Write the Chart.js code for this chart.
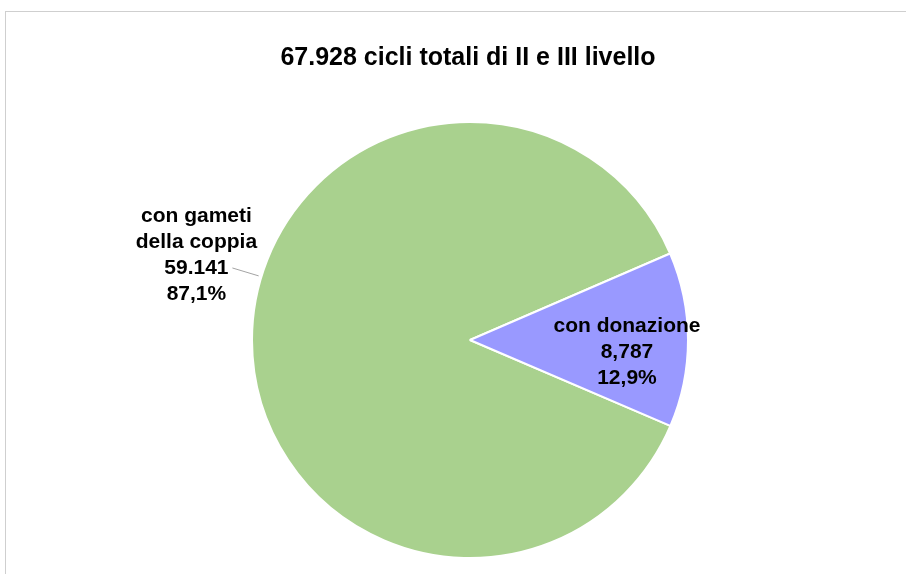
<!DOCTYPE html>
<html>
<head>
<meta charset="utf-8">
<script src="https://cdn.jsdelivr.net/npm/chart.js@4"></script>
<style>
  html, body { margin: 0; padding: 0; background: #fff; overflow: hidden; }
  #wrap { position: relative; width: 906px; height: 574px; }
  #frame { position: absolute; left: 5px; top: 11px; width: 920px; height: 600px; border: 1px solid #cfcfcf; }
  canvas { position: absolute; left: 0; top: 0; }
</style>
</head>
<body>
<div id="wrap">
  <div id="frame"></div>
  <canvas id="pie" width="906" height="574"></canvas>
</div>
<script>
const titleText = '67.928 cicli totali di II e III livello'
const categories = ['con gameti\ndella coppia', 'con donazione']
const cycles = [59141, 8787]
const valueLabels = ['59.141', '8,787']
const percentLabels = ['87,1%', '12,9%']
const colors = ['#a9d18e', '#9999ff']

const FONT = '"Liberation Sans", Arial, sans-serif'

// titolo + etichette disegnate a mano, ancorate agli archi
const labelPlugin = {
  id: 'labels',
  afterDraw(chart) {
    const { ctx } = chart
    ctx.save()
    ctx.fillStyle = '#000'
    ctx.textAlign = 'center'
    ctx.textBaseline = 'middle'
    ctx.font = 'bold 25px ' + FONT
    ctx.fillText(titleText, 468, 58)

    ctx.font = 'bold 21px ' + FONT
    const arcs = chart.getDatasetMeta(0).data
    arcs.forEach((arc, i) => {
      const lines = categories[i].split('\n').concat([valueLabels[i], percentLabels[i]])
      const mid = (arc.startAngle + arc.endAngle) / 2
      const r = arc.outerRadius
      let lx, ly
      if (i === 0) {
        // etichetta esterna con linea guida
        lx = arc.x - r * 1.255
        ly = arc.y - r * 0.39
        const ex = arc.x + Math.cos(mid + 0.30) * r
        const ey = arc.y + Math.sin(mid + 0.30) * r
        ctx.strokeStyle = '#8c8c8c'
        ctx.lineWidth = 0.8
        ctx.beginPath()
        ctx.moveTo(lx + 36, ly + 13)
        ctx.lineTo(ex - 3, ey)
        ctx.stroke()
      } else {
        lx = arc.x + Math.cos(mid) * r * 0.72
        ly = arc.y + Math.sin(mid) * r * 0.72 + 12
      }
      const lh = 26
      const y0 = ly - (lines.length - 1) * lh / 2
      lines.forEach((t, k) => ctx.fillText(t, lx, y0 + k * lh))
    })
    ctx.restore()
  }
}

new Chart(document.getElementById('pie'), {
  type: 'pie',
  data: {
    labels: categories,
    datasets: [{
      data: cycles,
      backgroundColor: colors,
      borderColor: '#ffffff',
      borderWidth: 2
    }]
  },
  options: {
    responsive: false,
    animation: false,
    rotation: 113.2,
    layout: { padding: { left: 251, right: 217, top: 121, bottom: 15 } },
    plugins: {
      legend: { display: false },
      tooltip: { enabled: false },
      title: { display: false }
    }
  },
  plugins: [labelPlugin]
})
</script>
</body>
</html>
